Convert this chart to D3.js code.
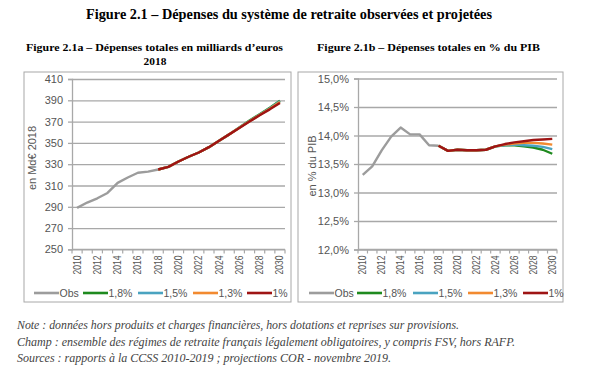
<!DOCTYPE html>
<html><head><meta charset="utf-8">
<script src="https://cdn.jsdelivr.net/npm/d3@7"></script>
<style>
body{margin:0;background:#fff;}
svg{display:block;}
.serif{font-family:"Liberation Serif","Times New Roman",serif;}
.sans{font-family:"Liberation Sans Narrow","Liberation Sans",Arial,sans-serif;}
</style></head>
<body>
<svg id="c" width="605" height="392"></svg>
<script>
// ---------- DATA ----------
const years = d3.range(2010, 2031);
const obsYears = d3.range(2010, 2019);
const projYears = d3.range(2018, 2031);
const yearTickLabels = d3.range(2010, 2031, 2);

const seriesNames = ["Obs", "1,8%", "1,5%", "1,3%", "1%"];
const seriesColors = ["#9c9c9c", "#1e8a1e", "#4aa3c0", "#f28a30", "#9e1414"];

// Panel a: billions of euros 2018
const obsMd  = [289, 294, 298, 303, 312.5, 317.5, 322, 323, 325];
const md18   = [325, 327.5, 332.5, 337, 341, 346, 352, 358, 364.5, 371, 377, 383, 389.5];
const md15   = [325, 327.5, 332.5, 337, 341, 346, 352, 358, 364.5, 370.5, 376.5, 382.5, 389];
const md13   = [325, 327.5, 332.5, 337, 341, 346, 352, 358, 364.2, 370.3, 376.2, 382, 388.3];
const md10   = [325, 327.5, 332.5, 337, 341, 346, 352, 358, 364, 370, 376, 381.5, 387.5];
const mdTicks = [250, 270, 290, 310, 330, 350, 370, 390, 410];

// Panel b: % of GDP
const obsPib = [13.31, 13.46, 13.74, 13.98, 14.14, 14.02, 14.02, 13.83, 13.82];
const pib18  = [13.82, 13.73, 13.75, 13.74, 13.74, 13.75, 13.81, 13.83, 13.83, 13.81, 13.79, 13.75, 13.68];
const pib15  = [13.82, 13.73, 13.75, 13.74, 13.74, 13.75, 13.81, 13.83, 13.84, 13.83, 13.82, 13.80, 13.76];
const pib13  = [13.82, 13.73, 13.75, 13.74, 13.74, 13.75, 13.81, 13.84, 13.86, 13.87, 13.87, 13.86, 13.84];
const pib10  = [13.82, 13.73, 13.75, 13.74, 13.74, 13.75, 13.81, 13.85, 13.88, 13.90, 13.92, 13.93, 13.94];
const pibTicks = [12, 12.5, 13, 13.5, 14, 14.5, 15];

// ---------- DRAW ----------
const svg = d3.select("#c");
const gridCol = "#a8a8a8", textCol = "#555";

function title(txt, x, y, size, len) {
  svg.append("text").attr("class","serif").attr("x",x).attr("y",y)
    .attr("font-weight","bold").attr("font-size",size)
    .attr("textLength",len).attr("lengthAdjust","spacingAndGlyphs")
    .text(txt);
}
title("Figure 2.1 – Dépenses du système de retraite observées et projetées", 86, 19, 14.2, 406);
title("Figure 2.1a – Dépenses totales en milliards d’euros", 26, 51, 11.4, 257);
svg.append("text").attr("class","serif").attr("x",155).attr("y",65)
  .attr("text-anchor","middle").attr("font-weight","bold").attr("font-size",11.4)
  .text("2018");
title("Figure 2.1b – Dépenses totales en % du PIB", 317, 51, 11.4, 223);

function panel(o) {
  const g = svg.append("g");
  g.append("rect").attr("x",o.box[0]).attr("y",o.box[1])
    .attr("width",o.box[2]-o.box[0]).attr("height",o.box[3]-o.box[1])
    .attr("fill","none").attr("stroke","#a8a8a8").attr("stroke-width",1);

  const x = d3.scaleBand().domain(years).range(o.xr);
  const xc = d => x(d) + x.bandwidth()/2;
  const y = d3.scaleLinear().domain(o.ydom).range(o.yr);

  // gridlines
  g.append("g").attr("transform",`translate(${o.xr[0]},0)`)
    .call(d3.axisLeft(y).tickValues(o.ticks).tickSize(-(o.xr[1]-o.xr[0])).tickFormat(""))
    .call(s => s.select(".domain").remove())
    .call(s => s.selectAll("line").attr("stroke",gridCol).attr("stroke-width",1.3));

  // y axis
  g.append("g").attr("transform",`translate(${o.xr[0]},0)`)
    .call(d3.axisLeft(y).tickValues(o.ticks).tickSize(4).tickPadding(5).tickFormat(o.fmt))
    .call(s => s.select(".domain").attr("stroke",gridCol).attr("stroke-width",1.3))
    .call(s => s.selectAll("line").attr("stroke",gridCol).attr("stroke-width",1.3))
    .call(s => s.selectAll("text").attr("class","sans").attr("font-size",11).attr("fill",textCol));

  // x axis line + boundary ticks
  const yb = o.yr[0];
  g.append("line").attr("x1",o.xr[0]).attr("x2",o.xr[1]).attr("y1",yb).attr("y2",yb)
    .attr("stroke",gridCol).attr("stroke-width",1.3);
  const bounds = years.map(d => x(d)).concat([x(years[years.length-1]) + x.bandwidth()]);
  g.selectAll(".bt").data(bounds).join("line")
    .attr("x1",d=>d).attr("x2",d=>d).attr("y1",yb).attr("y2",yb+4)
    .attr("stroke",gridCol).attr("stroke-width",1.2);
  g.selectAll(".xl").data(yearTickLabels).join("text")
    .attr("class","sans").attr("font-size",10).attr("fill",textCol)
    .attr("text-anchor","end").attr("textLength",19).attr("lengthAdjust","spacingAndGlyphs")
    .attr("transform",d=>`translate(${xc(d)+3.5},${yb+6}) rotate(-90)`)
    .text(d=>d);

  // y title
  g.append("text").attr("class","sans").attr("font-size",11).attr("fill",textCol)
    .attr("text-anchor","middle")
    .attr("transform",`translate(${o.ytx},${o.yty}) rotate(-90)`)
    .text(o.ytitle);

  // lines
  const line = d3.line().x(d=>xc(d[0])).y(d=>y(d[1]));
  const all = [
    {yrs: obsYears, v: o.series[0]},
    {yrs: projYears, v: o.series[1]},
    {yrs: projYears, v: o.series[2]},
    {yrs: projYears, v: o.series[3]},
    {yrs: projYears, v: o.series[4]}
  ];
  all.forEach((s,i) => {
    g.append("path").attr("d", line(s.yrs.map((yy,k)=>[yy, s.v[k]])))
      .attr("fill","none").attr("stroke",seriesColors[i]).attr("stroke-width",2.4)
      .attr("stroke-linejoin","round");
  });

  // legend
  const ly = 293;
  seriesNames.forEach((n,i) => {
    const lx = o.leg[i];
    g.append("line").attr("x1",lx).attr("x2",lx+25).attr("y1",ly).attr("y2",ly)
      .attr("stroke",seriesColors[i]).attr("stroke-width",2.6);
    g.append("text").attr("class","sans").attr("font-size",10.5).attr("fill",textCol)
      .attr("x",lx+25.5).attr("y",ly+3.7).text(n);
  });
}

panel({
  box:[24,72,291,302], xr:[72,285], yr:[249.4,79], ydom:[250,410], ticks: mdTicks,
  fmt: d3.format("d"), ytitle:"en Md€ 2018", ytx:36, yty:158,
  series:[obsMd, md18, md15, md13, md10],
  leg:[34, 83, 138, 193, 247]
});
panel({
  box:[298,72,563,302], xr:[358,557], yr:[249.5,78.5], ydom:[12,15], ticks: pibTicks,
  fmt: d => d3.format(".1f")(d).replace(".",",") + "%", ytitle:"en % du PIB", ytx:316, yty:166,
  series:[obsPib, pib18, pib15, pib13, pib10],
  leg:[309, 357, 413, 468, 523]
});

// footnotes
const notes = [
  "Note : données hors produits et charges financières, hors dotations et reprises sur provisions.",
  "Champ : ensemble des régimes de retraite français légalement obligatoires, y compris FSV, hors RAFP.",
  "Sources : rapports à la CCSS 2010-2019 ; projections COR - novembre 2019."
];
const noteLens = [442, 498, 374];
svg.selectAll(".note").data(notes).join("text")
  .attr("class","serif").attr("font-style","italic").attr("font-size",11.8).attr("fill","#444")
  .attr("textLength",(d,i)=>noteLens[i]).attr("lengthAdjust","spacingAndGlyphs")
  .attr("x",17).attr("y",(d,i)=>329 + i*16.5).text(d=>d);
</script>
</body></html>
